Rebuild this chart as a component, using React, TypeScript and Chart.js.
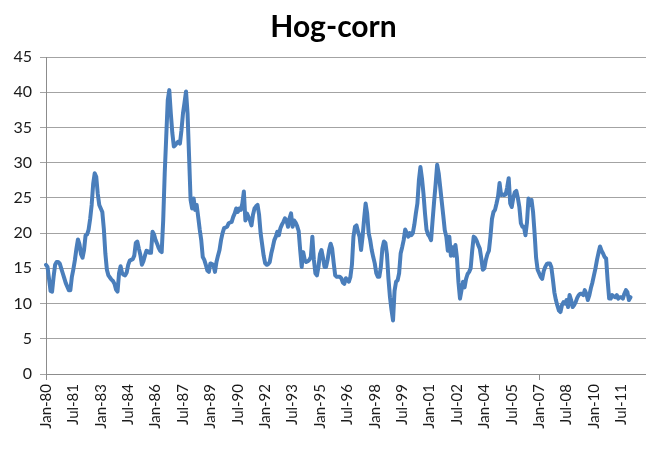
import React, { useEffect, useRef } from 'react';
import { Chart, registerables } from 'chart.js';

Chart.register(...registerables);

// ---- Categories (monthly, Jan-80 onward) ----
const MONTH_NAMES = ['Jan', 'Feb', 'Mar', 'Apr', 'May', 'Jun', 'Jul', 'Aug', 'Sep', 'Oct', 'Nov', 'Dec'];
const START_YEAR = 1980;
const AXIS_MONTHS = 409; // axis continues past the last observation
const LABEL_STEP = 18; // a label/tick every 18 months

// ---- Series values: hog-corn price ratio, monthly ----
const hogCorn1980s = [
  15.5, 15.2, 13.5, 11.8, 11.7, 13.8, 15.5, 15.9, 15.9, 15.7, 15.0, 14.3, // 1980
  13.6, 12.9, 12.4, 11.9, 11.9, 13.8, 14.9, 16.2, 17.8, 19.1, 18.4, 17.0, // 1981
  16.5, 17.6, 19.7, 19.8, 20.5, 22.0, 24.0, 27.0, 28.5, 28.0, 25.6, 24.0, // 1982
  23.5, 23.0, 20.6, 17.1, 14.8, 14.0, 13.7, 13.4, 13.2, 12.8, 12.0, 11.7, // 1983
  14.3, 15.3, 14.3, 14.1, 14.0, 14.4, 15.5, 16.1, 16.2, 16.3, 16.8, 18.6, // 1984
  18.8, 17.8, 16.9, 15.5, 16.0, 16.8, 17.5, 17.4, 17.2, 17.2, 20.2, 19.8, // 1985
  19.0, 18.5, 17.9, 17.5, 17.3, 21.8, 28.5, 33.7, 38.9, 40.3, 37.0, 34.2, // 1986
  32.3, 32.5, 32.8, 33.0, 32.7, 34.6, 37.0, 38.5, 40.1, 37.0, 30.9, 24.7, // 1987
  23.5, 24.9, 23.3, 24.0, 22.3, 20.5, 19.0, 16.6, 16.2, 15.5, 14.7, 14.5, // 1988
  15.7, 15.6, 15.5, 14.5, 15.9, 16.8, 17.6, 19.0, 20.0, 20.7, 20.8, 20.9, // 1989
];
const hogCorn1990s = [
  21.4, 21.5, 21.6, 22.3, 22.8, 23.5, 23.0, 23.5, 23.3, 24.2, 25.9, 21.8, // 1990
  22.8, 22.3, 21.8, 21.1, 22.6, 23.5, 23.8, 24.0, 22.6, 20.0, 18.4, 16.8, // 1991
  15.7, 15.5, 15.6, 15.9, 17.1, 18.0, 19.0, 19.5, 20.2, 19.7, 20.7, 21.2, // 1992
  21.6, 22.1, 21.8, 20.9, 22.1, 22.8, 20.9, 21.8, 21.5, 21.0, 20.3, 17.6, // 1993
  15.2, 17.3, 16.2, 15.9, 16.0, 16.2, 16.6, 19.5, 16.2, 14.3, 14.0, 15.2, // 1994
  17.0, 17.6, 16.5, 15.2, 15.2, 16.2, 17.6, 18.5, 17.8, 15.8, 14.0, 13.8, // 1995
  13.8, 13.8, 13.6, 13.0, 12.8, 13.6, 13.3, 13.1, 13.8, 15.5, 19.5, 20.9, // 1996
  21.1, 20.2, 19.5, 17.6, 19.5, 22.0, 24.2, 22.8, 20.0, 19.0, 17.6, 16.6, // 1997
  15.7, 14.3, 13.8, 13.8, 15.2, 17.8, 18.8, 18.6, 17.0, 13.5, 10.9, 9.1, // 1998
  7.6, 11.8, 13.1, 13.3, 14.3, 17.1, 18.0, 19.0, 20.5, 20.0, 19.5, 20.0, // 1999
];
const hogCorn2000s = [
  19.7, 20.0, 21.2, 22.8, 24.2, 27.5, 29.4, 27.8, 25.6, 22.8, 20.5, 19.8, // 2000
  19.5, 19.0, 21.8, 24.5, 27.0, 29.7, 28.5, 26.5, 24.5, 22.5, 20.4, 19.5, // 2001
  17.5, 19.5, 16.8, 18.0, 16.8, 18.3, 16.5, 13.0, 10.7, 11.9, 13.1, 12.3, // 2002
  13.5, 14.2, 14.5, 15.0, 17.5, 19.5, 19.3, 18.9, 18.3, 17.8, 16.4, 14.8, // 2003
  15.0, 16.2, 17.0, 17.5, 19.5, 22.0, 23.0, 23.3, 24.2, 25.2, 27.1, 25.4, // 2004
  25.5, 25.4, 25.5, 26.5, 27.8, 24.2, 23.7, 25.0, 25.8, 26.0, 25.0, 23.7, // 2005
  21.4, 20.9, 20.9, 19.7, 21.5, 24.9, 24.0, 24.7, 23.0, 20.0, 16.5, 14.8, // 2006
  14.3, 13.8, 13.5, 14.6, 15.2, 15.6, 15.7, 15.7, 15.2, 13.5, 11.6, 10.5, // 2007
  9.7, 9.0, 8.8, 9.8, 10.2, 10.0, 10.5, 9.5, 11.2, 10.5, 9.5, 9.8, // 2008
  10.2, 10.8, 11.2, 11.4, 11.4, 11.2, 11.9, 11.4, 10.5, 11.2, 12.2, 13.0, // 2009
];
const hogCorn2010s = [
  14.0, 15.0, 16.2, 17.2, 18.1, 17.5, 17.1, 16.6, 16.4, 13.3, 10.7, 10.7, // 2010
  11.2, 11.0, 10.9, 11.2, 10.7, 10.9, 10.9, 10.7, 11.4, 11.9, 11.6, 10.5, // 2011
  10.9, // 2012
];

// ---- Value axis ----
const Y_MIN = 0;
const Y_MAX = 45;
const Y_STEP = 5;

const TITLE = 'Hog-corn';

const values: (number | null)[] = [...hogCorn1980s, ...hogCorn1990s, ...hogCorn2000s, ...hogCorn2010s];
const categories: string[] = Array.from({ length: AXIS_MONTHS }, (_, i) => {
  const yr = (START_YEAR + Math.floor(i / 12)) % 100;
  return `${MONTH_NAMES[i % 12]}-${String(yr).padStart(2, '0')}`;
});

const AXIS_GRAY = '#8c8c8c';
const GRID_GRAY = '#a3a3a3';
const LINE_BLUE = '#4a7ebb';

const showLabel = (i: number) => i % LABEL_STEP === 0 && i < values.length;

export default function App() {
  const canvasRef = useRef<HTMLCanvasElement | null>(null);

  useEffect(() => {
    const canvas = canvasRef.current;
    if (!canvas) return;
    const chart = new Chart(canvas, {
      type: 'line',
      data: {
        labels: categories,
        datasets: [
          {
            label: TITLE,
            data: values,
            borderColor: LINE_BLUE,
            borderWidth: 4,
            pointRadius: 0,
            pointHoverRadius: 0,
            tension: 0,
            fill: false,
            borderJoinStyle: 'round',
            borderCapStyle: 'round',
            spanGaps: false,
          },
        ],
      },
      options: {
        animation: false,
        responsive: false,
        maintainAspectRatio: false,
        events: [],
        layout: { padding: { left: 0, right: 0, top: 0, bottom: 0 } },
        plugins: {
          legend: { display: false },
          tooltip: { enabled: false },
          title: {
            display: true,
            text: TITLE,
            color: '#000000',
            font: { family: 'Lato', weight: 'bold', size: 30, lineHeight: 1.2 },
            padding: { top: 9, bottom: 12 },
          },
        },
        scales: {
          x: {
            type: 'category',
            offset: false,
            grid: {
              display: true,
              drawOnChartArea: false,
              drawTicks: true,
              tickLength: 6,
              lineWidth: 1,
              color: (ctx: any) => (ctx.index % LABEL_STEP === 0 ? AXIS_GRAY : 'rgba(0,0,0,0)'),
            },
            border: { display: true, color: AXIS_GRAY, width: 1 },
            ticks: {
              autoSkip: false,
              maxRotation: 90,
              minRotation: 90,
              padding: 4,
              color: '#1a1a1a',
              font: { family: 'Lato', size: 15 },
              callback: (_v: any, i: number) => (showLabel(i) ? categories[i] : null),
            },
            afterFit: (s: any) => {
              s.height = 75;
            },
          },
          y: {
            min: Y_MIN,
            max: Y_MAX,
            grid: {
              display: true,
              drawTicks: true,
              tickLength: 6,
              color: GRID_GRAY,
              lineWidth: 1,
            },
            border: { display: true, color: AXIS_GRAY, width: 1 },
            ticks: {
              stepSize: Y_STEP,
              padding: 8,
              color: '#1a1a1a',
              font: { family: 'Lato', size: 16 },
            },
            afterFit: (s: any) => {
              s.width = 46;
            },
          },
        },
      },
    });
    return () => chart.destroy();
  }, []);

  return (
    <div
      style={{
        position: 'fixed',
        left: 0,
        top: 0,
        width: 646,
        height: 449,
        overflow: 'hidden',
        background: '#ffffff',
      }}
    >
      <canvas ref={canvasRef} width={667} height={449} style={{ display: 'block', width: 667, height: 449 }} />
    </div>
  );
}
